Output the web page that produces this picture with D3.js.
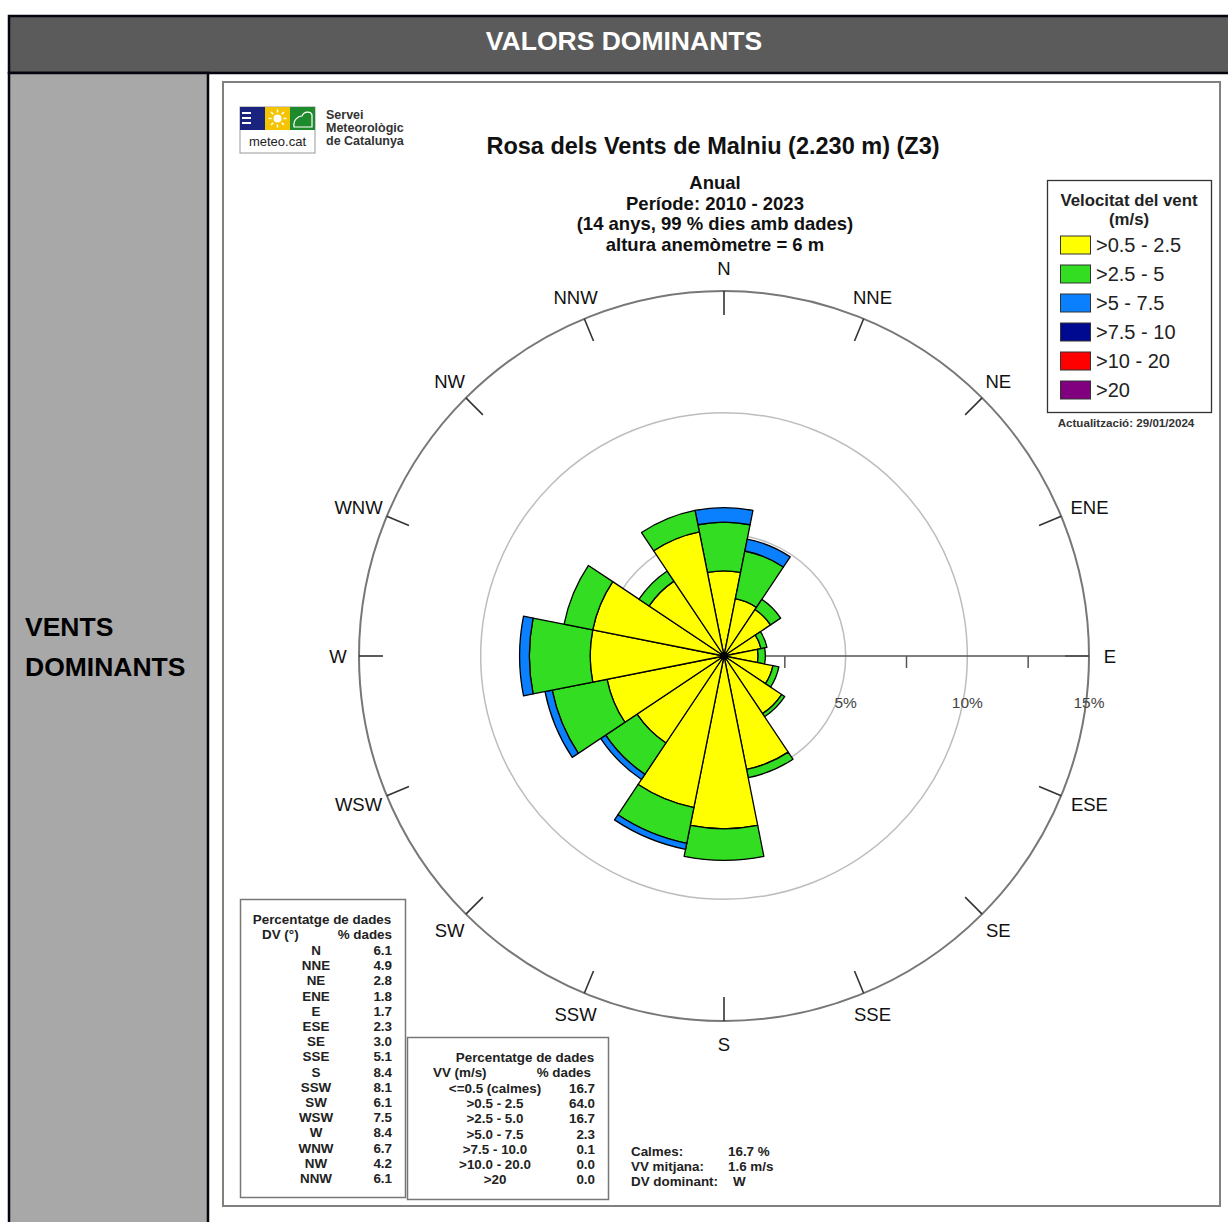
<!DOCTYPE html>
<html>
<head>
<meta charset="utf-8">
<script src="https://cdn.jsdelivr.net/npm/d3@7"></script>
<style>
  body { margin: 0; background: #fff; }
  svg { display: block; font-family: Arial, "Liberation Sans", sans-serif; }
</style>
</head>
<body>
<svg id="chart" width="1228" height="1222"></svg>
<script>
// Directions (16 sectors, clockwise from N)
const directions = ['N', 'NNE', 'NE', 'ENE', 'E', 'ESE', 'SE', 'SSE', 'S', 'SSW', 'SW', 'WSW', 'W', 'WNW', 'NW', 'NNW'];
// % of data per direction and speed class (read from the rose)
const yellowVals = [3.5, 2.4, 2.3, 1.55, 1.4, 2.05, 2.85, 4.75, 7.1, 6.35, 4.3, 4.9, 5.5, 5.5, 3.7, 5.2];
const greenVals  = [2.0, 2.0, 0.5, 0.25, 0.3, 0.25, 0.15, 0.35, 1.3, 1.5, 1.55, 2.3, 2.5, 1.2, 0.5, 0.9];
const blueVals   = [0.6, 0.5, 0, 0, 0, 0, 0, 0, 0, 0.25, 0.25, 0.3, 0.4, 0, 0, 0];
const seriesVals = [yellowVals, greenVals, blueVals];

// Legend
const speedLabels = ['>0.5 - 2.5', '>2.5 - 5', '>5 - 7.5', '>7.5 - 10', '>10 - 20', '>20'];
const speedColors = ['#ffff00', '#33dd22', '#0a80ff', '#000a90', '#ff0000', '#800080'];

// Tables
const dirTotals = ['6.1', '4.9', '2.8', '1.8', '1.7', '2.3', '3.0', '5.1', '8.4', '8.1', '6.1', '7.5', '8.4', '6.7', '4.2', '6.1'];
const vvClasses = ['<=0.5 (calmes)', '>0.5 - 2.5', '>2.5 - 5.0', '>5.0 - 7.5', '>7.5 - 10.0', '>10.0 - 20.0', '>20'];
const vvPercents = ['16.7', '64.0', '16.7', '2.3', '0.1', '0.0', '0.0'];
const ringTicks = [5, 10, 15];
const minorTicks = [2.5, 7.5, 12.5];

const svg = d3.select('#chart');

// ---- page table ----
svg.append('rect').attr('x', 9).attr('y', 16).attr('width', 1230).attr('height', 57)
  .attr('fill', '#5b5b5b').attr('stroke', '#05050f').attr('stroke-width', 2.5);
svg.append('rect').attr('x', 9).attr('y', 73).attr('width', 199).attr('height', 1160)
  .attr('fill', '#a8a8a8').attr('stroke', '#05050f').attr('stroke-width', 2.5);
svg.append('text').attr('x', 624).attr('y', 50).attr('text-anchor', 'middle')
  .attr('fill', '#fff').attr('font-weight', 'bold').attr('font-size', 26.5).text('VALORS DOMINANTS');
svg.append('text').attr('x', 25).attr('y', 636).attr('font-weight', 'bold').attr('font-size', 26.5)
  .attr('fill', '#000').text('VENTS');
svg.append('text').attr('x', 25).attr('y', 676).attr('font-weight', 'bold').attr('font-size', 26.5)
  .attr('fill', '#000').text('DOMINANTS');

// inner picture frame
svg.append('rect').attr('x', 223).attr('y', 82).attr('width', 997).attr('height', 1124)
  .attr('fill', '#fff').attr('stroke', '#808080').attr('stroke-width', 2);

// ---- logo ----
const logo = svg.append('g');
logo.append('rect').attr('x', 240).attr('y', 107).attr('width', 75).attr('height', 46)
  .attr('fill', '#fff').attr('stroke', '#999').attr('stroke-width', 1);
logo.append('rect').attr('x', 240).attr('y', 107).attr('width', 25).attr('height', 23).attr('fill', '#1a237e');
[112, 117, 122].forEach(y => logo.append('rect').attr('x', 242).attr('y', y).attr('width', 9).attr('height', 2).attr('fill', '#fff'));
logo.append('rect').attr('x', 265).attr('y', 107).attr('width', 25).attr('height', 23).attr('fill', '#f4c400');
logo.append('circle').attr('cx', 277.5).attr('cy', 118.5).attr('r', 4).attr('fill', '#fff');
d3.range(8).forEach(i => {
  const a = i * Math.PI / 4;
  logo.append('line').attr('x1', 277.5 + 6 * Math.cos(a)).attr('y1', 118.5 + 6 * Math.sin(a))
    .attr('x2', 277.5 + 9 * Math.cos(a)).attr('y2', 118.5 + 9 * Math.sin(a))
    .attr('stroke', '#fff').attr('stroke-width', 1.5);
});
logo.append('rect').attr('x', 290).attr('y', 107).attr('width', 25).attr('height', 23).attr('fill', '#1e8a2e');
logo.append('path').attr('d', 'M294,127 C293,120 298,116 302,116 C304,111 311,111 312,115 L312,127 Z')
  .attr('fill', 'none').attr('stroke', '#fff').attr('stroke-width', 1.2);
logo.append('text').attr('x', 277.5).attr('y', 146).attr('text-anchor', 'middle').attr('font-size', 13)
  .attr('fill', '#222').text('meteo.cat');
['Servei', 'Meteorològic', 'de Catalunya'].forEach((t, i) => {
  logo.append('text').attr('x', 326).attr('y', 119 + i * 13).attr('font-size', 12.5)
    .attr('font-weight', 'bold').attr('fill', '#333').text(t);
});

// ---- titles ----
svg.append('text').attr('x', 713).attr('y', 154).attr('text-anchor', 'middle')
  .attr('font-size', 23.5).attr('font-weight', 'bold').attr('fill', '#111')
  .text('Rosa dels Vents de Malniu (2.230 m) (Z3)');
['Anual', 'Període: 2010 - 2023', '(14 anys, 99 % dies amb dades)', 'altura anemòmetre = 6 m'].forEach((t, i) => {
  svg.append('text').attr('x', 715).attr('y', 189 + i * 20.5).attr('text-anchor', 'middle')
    .attr('font-size', 18.5).attr('font-weight', 'bold').attr('fill', '#111').text(t);
});

// ---- wind rose ----
const cx = 724, cy = 656;
const r = d3.scaleLinear().domain([0, 15]).range([0, 365]);
const angle = d3.scaleBand().domain(directions).range([-Math.PI / 16, 2 * Math.PI - Math.PI / 16]);
const mid = d => angle(d) + angle.bandwidth() / 2;
const rose = svg.append('g').attr('transform', `translate(${cx},${cy})`);

// rings
rose.selectAll('circle.ring').data(ringTicks).enter().append('circle')
  .attr('class', 'ring').attr('r', d => r(d)).attr('fill', 'none')
  .attr('stroke', d => d === 15 ? '#777' : '#bdbdbd').attr('stroke-width', d => d === 15 ? 2 : 1.5);

// direction ticks on outer ring
rose.selectAll('line.dtick').data(directions).enter().append('line')
  .attr('class', 'dtick')
  .attr('x1', d => Math.sin(mid(d)) * r(15)).attr('y1', d => -Math.cos(mid(d)) * r(15))
  .attr('x2', d => Math.sin(mid(d)) * (r(15) - 24)).attr('y2', d => -Math.cos(mid(d)) * (r(15) - 24))
  .attr('stroke', '#333').attr('stroke-width', 1.6);

// direction labels: pushed out a little more where the text lies across the ring
rose.selectAll('text.dlab').data(directions).enter().append('text')
  .attr('class', 'dlab')
  .attr('x', d => {
    const s = Math.sin(mid(d));
    const extra = Math.abs(s) > 0.99 ? -2 : (Math.abs(s) > 0.9 ? 7 : 0);
    return s * 388 + Math.sign(s) * extra;
  })
  .attr('y', d => -Math.cos(mid(d)) * 388 + 6.5)
  .attr('text-anchor', 'middle').attr('font-size', 18.5).attr('fill', '#111').text(d => d);

// E radial axis
rose.append('line').attr('x1', 0).attr('y1', 0).attr('x2', r(15)).attr('y2', 0)
  .attr('stroke', '#555').attr('stroke-width', 1.5);
rose.selectAll('line.mtick').data(minorTicks).enter().append('line')
  .attr('class', 'mtick').attr('x1', d => r(d)).attr('x2', d => r(d))
  .attr('y1', 0).attr('y2', 12).attr('stroke', '#555').attr('stroke-width', 1.5);
rose.selectAll('text.rlab').data(ringTicks).enter().append('text')
  .attr('class', 'rlab').attr('x', d => r(d)).attr('y', 52).attr('text-anchor', 'middle')
  .attr('font-size', 15.5).attr('fill', '#444').text(d => d + '%');

// stacked sectors
const arc = d3.arc();
const segs = [];
directions.forEach((dir, i) => {
  let base = 0;
  seriesVals.forEach((vals, k) => {
    const v = vals[i];
    if (v > 0) {
      segs.push({ dir, k, inner: base, outer: base + v });
      base += v;
    }
  });
});
rose.selectAll('path.seg').data(segs).enter().append('path')
  .attr('class', 'seg')
  .attr('d', d => arc({
    innerRadius: r(d.inner), outerRadius: r(d.outer),
    startAngle: angle(d.dir), endAngle: angle(d.dir) + angle.bandwidth()
  }))
  .attr('fill', d => speedColors[d.k]).attr('stroke', '#000').attr('stroke-width', 1.3)
  .attr('stroke-linejoin', 'round');
rose.append('circle').attr('r', 4).attr('fill', '#000');

// ---- legend ----
const lg = svg.append('g');
lg.append('rect').attr('x', 1047.5).attr('y', 180.5).attr('width', 164).attr('height', 232)
  .attr('fill', '#fff').attr('stroke', '#333').attr('stroke-width', 1.3);
lg.append('text').attr('x', 1129).attr('y', 206).attr('text-anchor', 'middle').attr('font-size', 16.8)
  .attr('font-weight', 'bold').attr('fill', '#222').text('Velocitat del vent');
lg.append('text').attr('x', 1129).attr('y', 225).attr('text-anchor', 'middle').attr('font-size', 16.8)
  .attr('font-weight', 'bold').attr('fill', '#222').text('(m/s)');
speedLabels.forEach((t, i) => {
  const y = 245 + i * 29;
  lg.append('rect').attr('x', 1060.5).attr('y', y - 9).attr('width', 30).attr('height', 18)
    .attr('fill', speedColors[i]).attr('stroke', '#333').attr('stroke-width', 1);
  lg.append('text').attr('x', 1096).attr('y', y + 7).attr('font-size', 20).attr('fill', '#222').text(t);
});
svg.append('text').attr('x', 1126).attr('y', 427).attr('text-anchor', 'middle').attr('font-size', 11.6)
  .attr('font-weight', 'bold').attr('fill', '#333').text('Actualització: 29/01/2024');

// ---- direction table ----
const t1 = svg.append('g').attr('font-size', 13.4).attr('font-weight', 'bold').attr('fill', '#222');
t1.append('rect').attr('x', 240.5).attr('y', 899.5).attr('width', 165).attr('height', 298)
  .attr('fill', '#fff').attr('stroke', '#777').attr('stroke-width', 1.5);
t1.append('text').attr('x', 322).attr('y', 924).attr('text-anchor', 'middle').text('Percentatge de dades');
t1.append('text').attr('x', 262).attr('y', 939).text('DV (°)');
t1.append('text').attr('x', 392).attr('y', 939).attr('text-anchor', 'end').text('% dades');
directions.forEach((d, i) => {
  const y = 955 + i * 15.2;
  t1.append('text').attr('x', 316).attr('y', y).attr('text-anchor', 'middle').text(d);
  t1.append('text').attr('x', 392).attr('y', y).attr('text-anchor', 'end').text(dirTotals[i]);
});

// ---- speed table ----
const t2 = svg.append('g').attr('font-size', 13.4).attr('font-weight', 'bold').attr('fill', '#222');
t2.append('rect').attr('x', 407.5).attr('y', 1037.5).attr('width', 201).attr('height', 162)
  .attr('fill', '#fff').attr('stroke', '#777').attr('stroke-width', 1.5);
t2.append('text').attr('x', 525).attr('y', 1062).attr('text-anchor', 'middle').text('Percentatge de dades');
t2.append('text').attr('x', 433).attr('y', 1077).text('VV (m/s)');
t2.append('text').attr('x', 591).attr('y', 1077).attr('text-anchor', 'end').text('% dades');
vvClasses.forEach((c, i) => {
  const y = 1093 + i * 15.2;
  t2.append('text').attr('x', 495).attr('y', y).attr('text-anchor', 'middle').text(c);
  t2.append('text').attr('x', 595).attr('y', y).attr('text-anchor', 'end').text(vvPercents[i]);
});

// ---- summary ----
const sm = svg.append('g').attr('font-size', 13.4).attr('font-weight', 'bold').attr('fill', '#222');
[['Calmes:', '16.7 %'], ['VV mitjana:', '1.6 m/s'], ['DV dominant:', 'W']].forEach((p, i) => {
  const y = 1156 + i * 15.2;
  sm.append('text').attr('x', 631).attr('y', y).text(p[0]);
  sm.append('text').attr('x', i === 2 ? 733 : 728).attr('y', y).text(p[1]);
});
</script>
</body>
</html>
